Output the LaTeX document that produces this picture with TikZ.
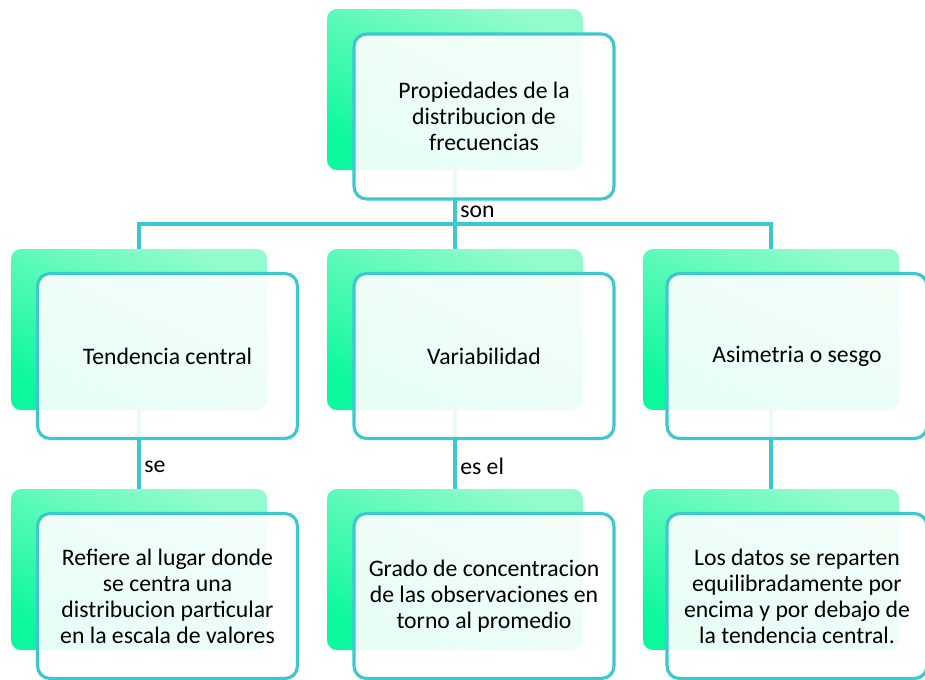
\documentclass[tikz,border=0pt]{standalone}
\usepackage{fontspec}
\setmainfont{Carlito}
\usepackage{tikz}
\definecolor{verdeA}{HTML}{0CF89C}
\definecolor{verdeB}{HTML}{94FCCC}
\definecolor{turquesa}{HTML}{3CC8CE}

\begin{document}
\begin{tikzpicture}[x=0.02cm,y=-0.02cm,
		fondo/.style={rectangle,rounded corners=0.2cm,minimum width=5.12cm,minimum height=3.22cm,inner sep=0pt,top color=verdeB,bottom color=verdeA,shading angle=-25},
		caja/.style={rectangle,rounded corners=0.25cm,draw=turquesa,line width=1.8pt,fill=white,fill opacity=0.9,text opacity=1,minimum width=5.2cm,minimum height=3.3cm,inner sep=0pt,align=center,font=\fontsize{13.5}{14.8}\selectfont},
		linea/.style={draw=turquesa,line width=2pt},
		etiq/.style={right,inner sep=2pt,font=\fontsize{13.5}{14.8}\selectfont}]
		%\draw [help lines] (0,0) grid (925,679);
		\useasboundingbox (0,0) rectangle (925,679);
		
		%FONDOS
		\node[fondo] (f0) at (455,89.5) {};
		\node[fondo] (f1) at (139,329.5) {};
		\node[fondo] (f2) at (455,329.5) {};
		\node[fondo] (f3) at (771,329.5) {};
		\node[fondo] (f4) at (139,569.5) {};
		\node[fondo] (f5) at (455,569.5) {};
		\node[fondo] (f6) at (771,569.5) {};
		
		%lineas
		\coordinate (bus) at (455,224);
		\draw[linea] (f0.south) -- node[etiq,pos=0.53] {son} (f2.north);
		\draw[linea] (f1.north) |- (bus) -| (f3.north);
		\draw[linea] (f1.south) -- node[etiq,pos=0.72] {se} (f4.north);
		\draw[linea] (f2.south) -- node[etiq,pos=0.72] {es el} (f5.north);
		\draw[linea] (f3.south) -- (f6.north);
		
		%CAJAS
		\node[caja] (p0) at ([shift={(29,27)}]f0) {Propiedades de la\\distribucion de\\frecuencias};
		\node[caja] (p1) at ([shift={(28.5,26.5)}]f1) {Tendencia central};
		\node[caja] (p2) at ([shift={(29,26.5)}]f2) {Variabilidad};
		\node[caja] (p3) at ([shift={(26,26.5)}]f3) {Asimetria o sesgo};
		\node[caja] (p4) at ([shift={(28.5,26.5)}]f4) {Refiere al lugar donde\\se centra una\\distribucion particular\\en la escala de valores};
		\node[caja] (p5) at ([shift={(29,26.5)}]f5) {Grado de concentracion\\de las observaciones en\\torno al promedio};
		\node[caja] (p6) at ([shift={(26,26.5)}]f6) {Los datos se reparten\\equilibradamente por\\encima y por debajo de\\la tendencia central.};
		
	\end{tikzpicture}
\end{document}
